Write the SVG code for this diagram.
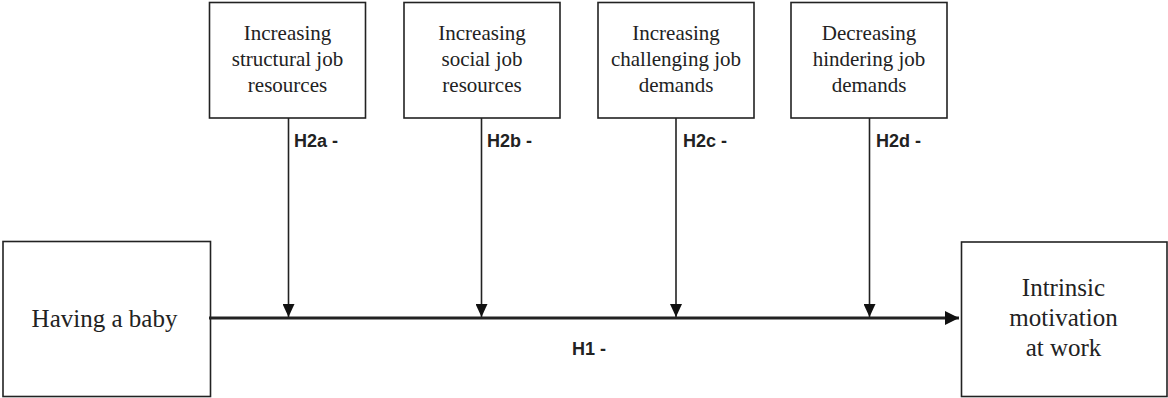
<svg xmlns="http://www.w3.org/2000/svg" width="1168" height="398" viewBox="0 0 1168 398">
<style>
.box{fill:#fff;stroke:#222;stroke-width:1.6}
.t{font-family:"Liberation Serif","Times New Roman",serif;fill:#222;text-anchor:middle}
.ts{font-size:21px}
.tb{font-size:25px}
.h{font-family:"Liberation Sans",Arial,sans-serif;font-weight:bold;font-size:18px;fill:#222}
.v{stroke:#222;stroke-width:1.6;fill:none}
.m{stroke:#222;stroke-width:3.2;fill:none}
</style>
<defs>
<marker id="ad" markerWidth="13" markerHeight="12" refX="13" refY="6" orient="auto" markerUnits="userSpaceOnUse" viewBox="0 0 13 12">
<path d="M0,0 L13,6 L0,12 Z" fill="#111"/>
</marker>
<marker id="ar" markerWidth="14" markerHeight="14" refX="14" refY="7" orient="auto" markerUnits="userSpaceOnUse" viewBox="0 0 14 14">
<path d="M0,0 L14,7 L0,14 Z" fill="#111"/>
</marker>
</defs>
<g id="n-structural">
<rect class="box" x="209.5" y="2.5" width="156" height="115.5"/>
<text class="t ts" x="287.5" y="40">Increasing</text>
<text class="t ts" x="287.5" y="66">structural job</text>
<text class="t ts" x="287.5" y="92">resources</text>
</g>
<g id="n-social">
<rect class="box" x="404" y="2.5" width="156" height="115.5"/>
<text class="t ts" x="482" y="40">Increasing</text>
<text class="t ts" x="482" y="66">social job</text>
<text class="t ts" x="482" y="92">resources</text>
</g>
<g id="n-challenging">
<rect class="box" x="598" y="2.5" width="156" height="115.5"/>
<text class="t ts" x="676" y="40">Increasing</text>
<text class="t ts" x="676" y="66">challenging job</text>
<text class="t ts" x="676" y="92">demands</text>
</g>
<g id="n-hindering">
<rect class="box" x="791" y="2.5" width="156" height="115.5"/>
<text class="t ts" x="869" y="40">Decreasing</text>
<text class="t ts" x="869" y="66">hindering job</text>
<text class="t ts" x="869" y="92">demands</text>
</g>
<g id="n-baby">
<rect class="box" x="3" y="241.5" width="207.5" height="155"/>
<text class="t tb" x="104.5" y="327">Having a baby</text>
</g>
<g id="n-motivation">
<rect class="box" x="961.5" y="242" width="205.5" height="154.5"/>
<text class="t tb" x="1063.5" y="296">Intrinsic</text>
<text class="t tb" x="1063.5" y="326">motivation</text>
<text class="t tb" x="1063.5" y="356">at work</text>
</g>
<g id="connectors">
<line class="m" x1="209" y1="318" x2="959" y2="318" marker-end="url(#ar)"/>
<line class="v" x1="288.5" y1="118" x2="288.5" y2="317" marker-end="url(#ad)"/>
<line class="v" x1="481.5" y1="118" x2="481.5" y2="317" marker-end="url(#ad)"/>
<line class="v" x1="676" y1="118" x2="676" y2="317" marker-end="url(#ad)"/>
<line class="v" x1="869.5" y1="118" x2="869.5" y2="317" marker-end="url(#ad)"/>
<text class="h" x="294" y="147">H2a -</text>
<text class="h" x="487" y="147">H2b -</text>
<text class="h" x="683" y="147">H2c -</text>
<text class="h" x="876" y="147">H2d -</text>
<text class="h" x="572" y="354.5">H1 -</text>
</g>
</svg>
